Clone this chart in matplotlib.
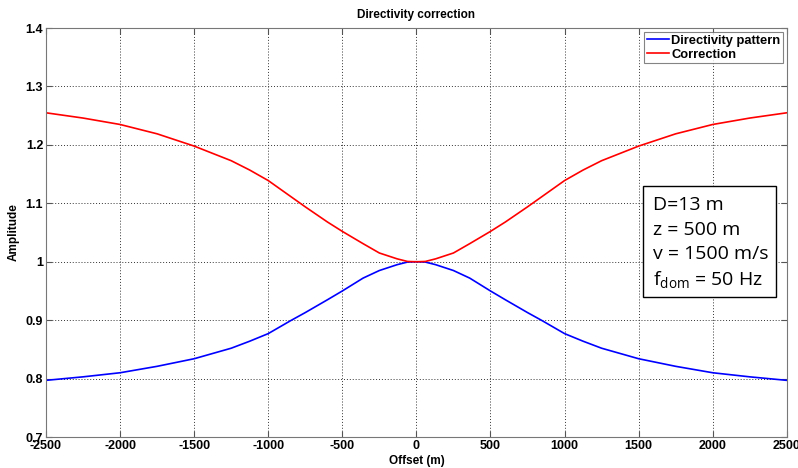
import numpy as np
import matplotlib.pyplot as plt
from matplotlib.patches import Rectangle

# values (symmetric about zero offset)
offset_half = [0, 60, 130, 250, 360, 500, 600, 750, 850, 1000, 1125, 1250, 1500, 1750, 2000, 2250, 2500]
pattern_half = [1.000, 0.9995, 0.995, 0.985, 0.972, 0.950, 0.935, 0.913, 0.899, 0.877,
                0.864, 0.852, 0.834, 0.821, 0.810, 0.803, 0.797]
correction_half = [1.000, 1.0005, 1.005, 1.015, 1.031, 1.052, 1.068, 1.094, 1.112, 1.139,
                   1.157, 1.173, 1.198, 1.219, 1.235, 1.246, 1.255]

offset = [-v for v in offset_half[:0:-1]] + offset_half
pattern = pattern_half[:0:-1] + pattern_half
correction = correction_half[:0:-1] + correction_half

xticks = [-2500, -2000, -1500, -1000, -500, 0, 500, 1000, 1500, 2000, 2500]
yticks = [0.7, 0.8, 0.9, 1.0, 1.1, 1.2, 1.3, 1.4]
ytick_labels = ["0.7", "0.8", "0.9", "1", "1.1", "1.2", "1.3", "1.4"]

plt.rcParams['font.family'] = ['Liberation Sans', 'DejaVu Sans']
plt.rcParams['mathtext.fontset'] = 'custom'
plt.rcParams['mathtext.rm'] = 'Open Sans'

fig = plt.figure(figsize=(7.98, 4.68), dpi=100)
ax = fig.add_axes([0.0576, 0.0662, 0.9284, 0.8738])

ax.plot(offset, pattern, color="#0000ff", linewidth=1.2, label="Directivity pattern")
ax.plot(offset, correction, color="#ff0000", linewidth=1.2, label="Correction")

ax.set_xlim(-2500, 2500)
ax.set_ylim(0.7, 1.4)
ax.set_xticks(xticks)
ax.set_xticklabels([str(t) for t in xticks], fontweight="bold", fontsize=9)
ax.set_yticks(yticks)
ax.set_yticklabels(ytick_labels, fontweight="bold", fontsize=9)
ax.tick_params(direction="in", top=True, right=True, length=4, pad=2, color="#555555")
ax.grid(True, linestyle=(0, (1, 2)), color="#333333", linewidth=0.7)
for s in ax.spines.values():
    s.set_color("#777777")

ax.set_title("Directivity correction", fontweight="bold", fontsize=8.5, pad=7)
ax.set_xlabel("Offset (m)", fontweight="bold", fontsize=8.5, labelpad=2)
ax.set_ylabel("Amplitude", fontweight="bold", fontsize=8.5, labelpad=4)

leg = ax.legend(loc="upper right", prop={"weight": "bold", "size": 9.3},
                borderaxespad=0.3, handlelength=1.7, handletextpad=0.2,
                borderpad=0.2, labelspacing=0.15, fancybox=False)
leg.get_frame().set_edgecolor("#666666")
leg.get_frame().set_linewidth(0.8)

# parameter box
ax.add_patch(Rectangle((0.8057, 0.3423), 0.1795, 0.2714, transform=ax.transAxes,
                       facecolor="white", edgecolor="black", linewidth=1, zorder=5))
info = "D=13 m\nz = 500 m\nv = 1500 m/s\nf$_{\\mathrm{dom}}$ = 50 Hz"
ax.text(0.819, 0.3692, info, transform=ax.transAxes, family="Open Sans",
        fontsize=14, va="baseline", ha="left", linespacing=1.45, zorder=6)

fig.savefig("out.png", dpi=100)
